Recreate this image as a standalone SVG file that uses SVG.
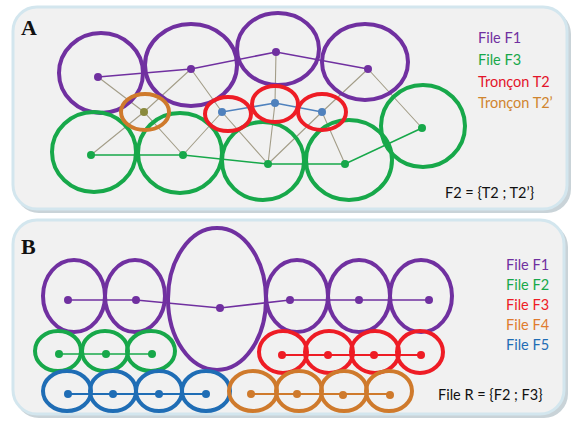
<svg xmlns="http://www.w3.org/2000/svg" width="576" height="423" viewBox="0 0 576 423">
<defs>
<style>
.panel{fill:#f1f1f1;stroke:#d3e6ee;stroke-width:3}
.shadow{fill:#c9d3d8}
.lbl{font-family:"Liberation Serif",serif;font-weight:bold;font-size:22px;fill:#111}
.leg{font-family:Lato,"Open Sans",sans-serif;font-size:14.5px}
.eq{font-family:Lato,"Open Sans",sans-serif;font-size:14.5px;fill:#111}
.pu{fill:none;stroke:#7030a0;stroke-width:4}
.gr{fill:none;stroke:#17a84a;stroke-width:4}
.rd{fill:none;stroke:#ee1c25;stroke-width:4}
.or{fill:none;stroke:#cf7a2c;stroke-width:4}
.bl{fill:none;stroke:#1f6db5;stroke-width:4}
.gy{fill:none;stroke:#a39d88;stroke-width:1.1}
.pl{fill:none;stroke:#7030a0;stroke-width:1.6}
.gl{fill:none;stroke:#17a84a;stroke-width:1.6}
.sl{fill:none;stroke:#4f81bd;stroke-width:1.6}
.rl{fill:none;stroke:#ee1c25;stroke-width:1.8}
.ol{fill:none;stroke:#cf7a2c;stroke-width:1.8}
.bll{fill:none;stroke:#1f6db5;stroke-width:1.8}
</style>
</defs>
<g id="panel-A">
<rect class="shadow" x="15" y="10" width="556" height="203" rx="24"/>
<rect class="panel" x="13" y="7" width="554" height="202" rx="24"/>
<text class="lbl" x="21" y="35">A</text>
</g>
<g id="panel-B">
<rect class="shadow" x="15" y="223" width="553" height="195" rx="24"/>
<rect class="panel" x="13" y="220" width="551" height="194" rx="24"/>
<text class="lbl" x="21" y="254">B</text>
</g>
<g id="connectors">
<path class="gy" d="M98 77L144 112L183 155M191 69L144 112L91 155M191 69L222 112L268 164M183 155L222 112M276 52L275 103L268 164M368 69L322 112L268 164M322 112L345 164M368 69L422 128"/>
<path class="pl" d="M98 77L191 69L276 52L368 69"/>
<path class="gl" d="M91 155L183 155L268 164L345 164L422 128"/>
<path class="sl" d="M222 112L275 103L322 112"/>
<path class="pl" d="M68 300L136 300L220 308L290 300L359 300L429 300"/>
<path class="gl" d="M59 354L152 354"/>
<path class="rl" d="M282 355L421 355"/>
<path class="bll" d="M68 394L206 394"/>
<path class="ol" d="M251 394L390 394"/>
</g>
<g id="A-F1">
<ellipse class="pu" cx="101" cy="73" rx="42" ry="40"/>
<ellipse class="pu" cx="191" cy="65" rx="46" ry="41"/>
<ellipse class="pu" cx="278" cy="49" rx="41" ry="36"/>
<ellipse class="pu" cx="365" cy="62" rx="43" ry="38"/>
<g fill="#7030a0"><circle cx="98" cy="77" r="4"/><circle cx="191" cy="69" r="4"/><circle cx="276" cy="52" r="4"/><circle cx="368" cy="69" r="4"/></g>
</g>
<g id="A-F3">
<ellipse class="gr" cx="94" cy="152" rx="42" ry="40"/>
<ellipse class="gr" cx="180" cy="153" rx="42" ry="40"/>
<ellipse class="gr" cx="263" cy="161" rx="41" ry="39"/>
<ellipse class="gr" cx="349" cy="160" rx="43" ry="40"/>
<ellipse class="gr" cx="423" cy="126" rx="42" ry="41"/>
<g fill="#17a84a"><circle cx="91" cy="155" r="4"/><circle cx="183" cy="155" r="4"/><circle cx="268" cy="164" r="4"/><circle cx="345" cy="164" r="4"/><circle cx="422" cy="128" r="4"/></g>
</g>
<g id="A-T2p">
<ellipse class="or" cx="145" cy="112" rx="24" ry="18"/>
<circle cx="144" cy="112" r="4" fill="#8a8a3c"/>
</g>
<g id="A-T2">
<ellipse class="rd" cx="228" cy="114" rx="23" ry="17"/>
<ellipse class="rd" cx="275" cy="104" rx="23" ry="18"/>
<ellipse class="rd" cx="322" cy="112" rx="24" ry="18"/>
<g fill="#4f81bd"><circle cx="222" cy="112" r="4"/><circle cx="275" cy="103" r="4"/><circle cx="322" cy="112" r="4"/></g>
</g>
<g id="A-legend">
<text class="leg" x="478" y="43" fill="#7030a0">File F1</text>
<text class="leg" x="478" y="65" fill="#17a84a">File F3</text>
<text class="leg" x="478" y="87" fill="#e3142a">Tronçon T2</text>
<text class="leg" x="478" y="108" fill="#d0852f">Tronçon T2’</text>
<text class="eq" x="445" y="198">F2 = {T2 ; T2’}</text>
</g>
<g id="B-F1">
<ellipse class="pu" cx="74" cy="296" rx="31" ry="36"/>
<ellipse class="pu" cx="135" cy="296" rx="30" ry="36"/>
<ellipse class="pu" cx="217" cy="299" rx="49" ry="71"/>
<ellipse class="pu" cx="297" cy="296" rx="31" ry="36"/>
<ellipse class="pu" cx="359" cy="296" rx="31" ry="36"/>
<ellipse class="pu" cx="421" cy="296" rx="31" ry="36"/>
<g fill="#7030a0"><circle cx="68" cy="300" r="4"/><circle cx="136" cy="300" r="4"/><circle cx="220" cy="308" r="4"/><circle cx="290" cy="300" r="4"/><circle cx="359" cy="300" r="4"/><circle cx="429" cy="300" r="4"/></g>
</g>
<g id="B-F2">
<ellipse class="gr" cx="58" cy="351" rx="23" ry="20"/>
<ellipse class="gr" cx="105" cy="351" rx="23" ry="20"/>
<ellipse class="gr" cx="151" cy="351" rx="24" ry="20"/>
<g fill="#17a84a"><circle cx="59" cy="354" r="4"/><circle cx="106" cy="354" r="4"/><circle cx="152" cy="354" r="4"/></g>
</g>
<g id="B-F3">
<ellipse class="rd" cx="283" cy="352" rx="24" ry="21"/>
<ellipse class="rd" cx="329" cy="352" rx="24" ry="21"/>
<ellipse class="rd" cx="375" cy="352" rx="24" ry="21"/>
<ellipse class="rd" cx="420" cy="352" rx="23" ry="21"/>
<g fill="#ee1c25"><circle cx="282" cy="355" r="4"/><circle cx="328" cy="355" r="4"/><circle cx="374" cy="355" r="4"/><circle cx="421" cy="355" r="4"/></g>
</g>
<g id="B-F5">
<ellipse class="bl" cx="67" cy="391" rx="24" ry="20"/>
<ellipse class="bl" cx="113" cy="391" rx="23" ry="20"/>
<ellipse class="bl" cx="159" cy="391" rx="23" ry="20"/>
<ellipse class="bl" cx="206" cy="391" rx="24" ry="20"/>
<g fill="#1f6db5"><circle cx="68" cy="394" r="4"/><circle cx="113" cy="394" r="4"/><circle cx="159" cy="394" r="4"/><circle cx="206" cy="394" r="4"/></g>
</g>
<g id="B-F4">
<ellipse class="or" cx="253" cy="391" rx="24" ry="20"/>
<ellipse class="or" cx="299" cy="391" rx="23" ry="20"/>
<ellipse class="or" cx="344" cy="391" rx="23" ry="20"/>
<ellipse class="or" cx="389" cy="391" rx="23" ry="20"/>
<g fill="#cf7a2c"><circle cx="251" cy="394" r="4"/><circle cx="297" cy="394" r="4"/><circle cx="343" cy="395" r="4"/><circle cx="390" cy="395" r="4"/></g>
</g>
<g id="B-legend">
<text class="leg" x="506" y="270" fill="#7030a0">File F1</text>
<text class="leg" x="506" y="290" fill="#17a84a">File F2</text>
<text class="leg" x="506" y="310" fill="#ee1c25">File F3</text>
<text class="leg" x="506" y="330" fill="#e07b2e">File F4</text>
<text class="leg" x="506" y="350" fill="#1f6db5">File F5</text>
<text class="eq" x="438" y="400">File R = {F2 ; F3}</text>
</g>
</svg>
